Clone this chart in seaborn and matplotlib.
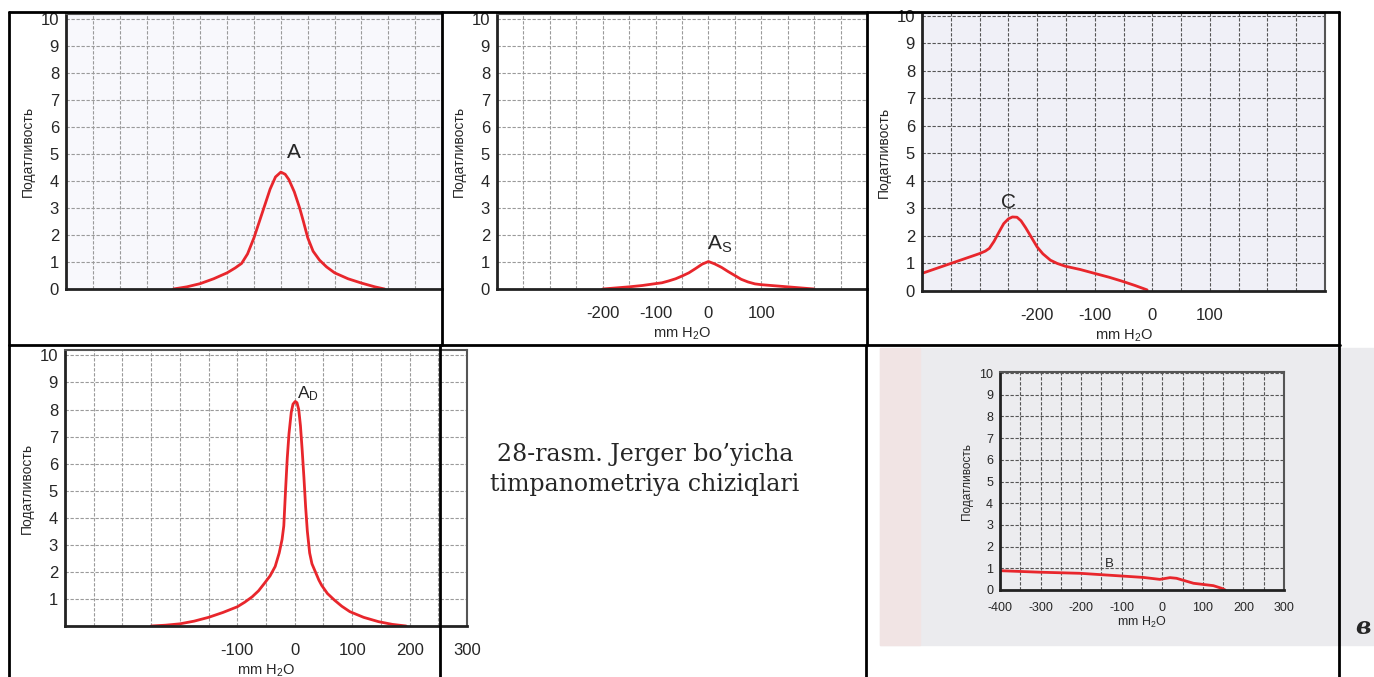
import numpy as np
import pandas as pd
import matplotlib.pyplot as plt
import seaborn as sns
from matplotlib.lines import Line2D
from matplotlib.patches import Rectangle

sns.set_style("white")
plt.rcParams['font.family'] = ['Liberation Sans', 'DejaVu Sans']
plt.rcParams['mathtext.default'] = 'regular'

# Tympanogram data (pressure mm H2O, compliance)
a_x = [-200, -175, -150, -125, -100, -85, -73, -62, -50, -40, -30, -20, -10, 0,
       8, 15, 25, 35, 42, 50, 60, 72, 85, 100, 125, 150, 175, 193]
a_y = [0.0, 0.08, 0.2, 0.38, 0.6, 0.78, 0.95, 1.3, 1.9, 2.5, 3.1, 3.7, 4.15, 4.33,
       4.25, 4.05, 3.6, 3.0, 2.5, 1.9, 1.4, 1.07, 0.82, 0.6, 0.38, 0.22, 0.08, 0.0]

as_x = [-200, -175, -150, -125, -100, -88, -75, -62, -50, -37, -25, -12, 0,
        12, 25, 37, 50, 62, 75, 88, 100, 125, 150, 175, 200]
as_y = [0.0, 0.04, 0.08, 0.13, 0.2, 0.23, 0.3, 0.38, 0.48, 0.6, 0.75, 0.92, 1.02,
        0.93, 0.8, 0.65, 0.5, 0.36, 0.26, 0.19, 0.16, 0.12, 0.08, 0.04, 0.0]

c_x = [-400, -375, -350, -325, -300, -290, -283, -275, -266, -258, -250, -243, -235,
       -228, -220, -210, -200, -190, -177, -165, -151, -125, -102, -75, -53, -30, -9]
c_y = [0.64, 0.82, 1.0, 1.18, 1.36, 1.45, 1.55, 1.8, 2.15, 2.45, 2.62, 2.69, 2.68,
       2.55, 2.3, 1.95, 1.6, 1.35, 1.12, 1.0, 0.9, 0.78, 0.65, 0.5, 0.36, 0.2, 0.04]

ad_x = [-250, -225, -200, -175, -150, -125, -100, -87, -74, -63, -53, -43, -34, -27,
        -22, -19, -16, -13, -10, -6, -3, 1, 4, 7, 10, 13, 16, 19, 22, 26, 30, 36,
        42, 47, 57, 69, 82, 96, 120, 146, 170, 194]
ad_y = [0.0, 0.03, 0.08, 0.18, 0.32, 0.5, 0.71, 0.88, 1.08, 1.3, 1.57, 1.85, 2.2, 2.7,
        3.2, 3.7, 5.0, 6.2, 7.1, 7.9, 8.2, 8.3, 8.25, 8.0, 7.4, 6.5, 5.5, 4.4, 3.5, 2.7,
        2.3, 2.0, 1.7, 1.5, 1.2, 0.96, 0.73, 0.53, 0.32, 0.16, 0.06, 0.0]

b_x = [-400, -301, -203, -104, -47, -6, 19, 35, 77, 126, 146, 155]
b_y = [0.89, 0.82, 0.77, 0.65, 0.58, 0.49, 0.57, 0.54, 0.31, 0.2, 0.08, 0.0]

x_ticks = list(range(-400, 301, 50))
y_ticks = list(range(0, 11))

W, H = 1374, 677
fig = plt.figure(figsize=(W / 100, H / 100), dpi=100)


def make_ax(l, r, t, b, xlim, ylim, face='white'):
    ax = fig.add_axes([l / W, 1 - b / H, (r - l) / W, (b - t) / H])
    ax.set_facecolor(face)
    ax.set_xlim(*xlim)
    ax.set_ylim(*ylim)
    return ax


def style_ax(ax, xlabels, ylabels, fs=12, grid_color='#9a9a9a', right=False):
    ax.set_xticks(x_ticks)
    ax.set_xticklabels([str(v) if v in xlabels else '' for v in x_ticks], fontsize=fs)
    ax.set_yticks(y_ticks)
    ax.set_yticklabels([str(v) if v in ylabels else '' for v in y_ticks], fontsize=fs)
    ax.grid(True, color=grid_color, lw=0.8, ls=(0, (3, 1.5)))
    ax.tick_params(axis='x', direction='inout', length=9, width=1.6, color='#222', pad=8)
    ax.tick_params(axis='y', length=0, pad=5)
    for s in ['left', 'bottom']:
        ax.spines[s].set_color('#222')
        ax.spines[s].set_linewidth(2)
    ax.spines['top'].set_color('#555')
    ax.spines['top'].set_linewidth(1.5)
    ax.spines['right'].set_visible(right)
    ax.spines['right'].set_color('#555')
    ax.spines['right'].set_linewidth(1.5)


def curve(ax, xs, ys, ylab_fs=10):
    df = pd.DataFrame({'p': xs, 'c': ys})
    sns.lineplot(data=df, x='p', y='c', ax=ax, color='#e8262c', lw=2, sort=False,
                 solid_joinstyle='round', solid_capstyle='round')
    ax.set_xlabel('')
    ax.set_ylabel('Податливость', fontsize=ylab_fs, labelpad=4)


# photo background of bottom-right panel
fig.add_artist(Rectangle((880 / W, 1 - 645 / H), (W - 880) / W, (645 - 348) / H,
                         transform=fig.transFigure, color='#ebebee', zorder=0))
fig.add_artist(Rectangle((880 / W, 1 - 645 / H), 40 / W, (645 - 348) / H,
                         transform=fig.transFigure, color='#f1e4e4', zorder=0))

# Panel A
ax = make_ax(66, 442, 13.6, 289, (-400, 251.6), (0, 10.2), face='#f8f8fc')
style_ax(ax, [], y_ticks)
curve(ax, a_x, a_y)
ax.text(25, 5.05, 'A', fontsize=15, ha='center', va='center')

# Panel As
ax = make_ax(497, 867, 14, 289, (-400, 238), (0, 10.2))
style_ax(ax, [-200, -100, 0, 100], y_ticks)
curve(ax, as_x, as_y)
ax.set_xlabel('mm H$_2$O', fontsize=10.5, labelpad=3)
ax.text(22, 1.65, 'A$_S$', fontsize=15, ha='center', va='center')

# Panel C
ax = make_ax(922, 1325, 13, 291, (-400, 300), (0, 10.1), face='#f0f0f7')
style_ax(ax, [-200, -100, 0, 100], y_ticks, grid_color='#555', right=True)
curve(ax, c_x, c_y)
ax.set_xlabel('mm H$_2$O', fontsize=10.5, labelpad=3)
ax.text(-250, 3.2, 'C', fontsize=15, ha='center', va='center')

# Panel AD
ax = make_ax(65, 467, 350, 626, (-400, 300), (0, 10.2))
style_ax(ax, [-100, 0, 100, 200, 300], y_ticks[1:], right=True)
curve(ax, ad_x, ad_y)
ax.set_xlabel('mm H$_2$O', fontsize=10.5, labelpad=3)
ax.text(23, 8.6, 'A$_D$', fontsize=12.5, ha='center', va='center')

# Panel B
ax = make_ax(1000, 1284, 372, 590, (-400, 300), (0, 10.05), face='#ececef')
style_ax(ax, list(range(-400, 301, 100)), y_ticks, fs=9, grid_color='#555', right=True)
ax.tick_params(axis='x', length=7, pad=5)
curve(ax, b_x, b_y, ylab_fs=8.5)
ax.set_xlabel('mm H$_2$O', fontsize=9, labelpad=1)
ax.text(-130, 1.2, 'B', fontsize=9.5, ha='center', va='center')

# caption
fig.text(645 / W, 1 - 455 / H, '28-rasm. Jerger bo\u2019yicha', fontsize=17,
         family='DejaVu Serif', ha='center', va='center')
fig.text(645 / W, 1 - 485 / H, 'timpanometriya chiziqlari', fontsize=17,
         family='DejaVu Serif', ha='center', va='center')
fig.text(1363 / W, 1 - 627 / H, 'в', fontsize=17, family='DejaVu Serif',
         style='italic', weight='bold', ha='center', va='center')


# table borders
def hline(y, x0, x1):
    fig.add_artist(Line2D([x0 / W, x1 / W], [1 - y / H, 1 - y / H], color='black', lw=2))


def vline(x, y0, y1):
    fig.add_artist(Line2D([x / W, x / W], [1 - y0 / H, 1 - y1 / H], color='black', lw=2))


hline(12, 9, 1339)
hline(345, 9, 1340)
vline(9, 12, 677)
vline(442, 12, 345)
vline(867, 12, 345)
vline(440, 345, 677)
vline(866, 345, 677)
vline(1339, 12, 677)

fig.savefig('out.png', dpi=100)
